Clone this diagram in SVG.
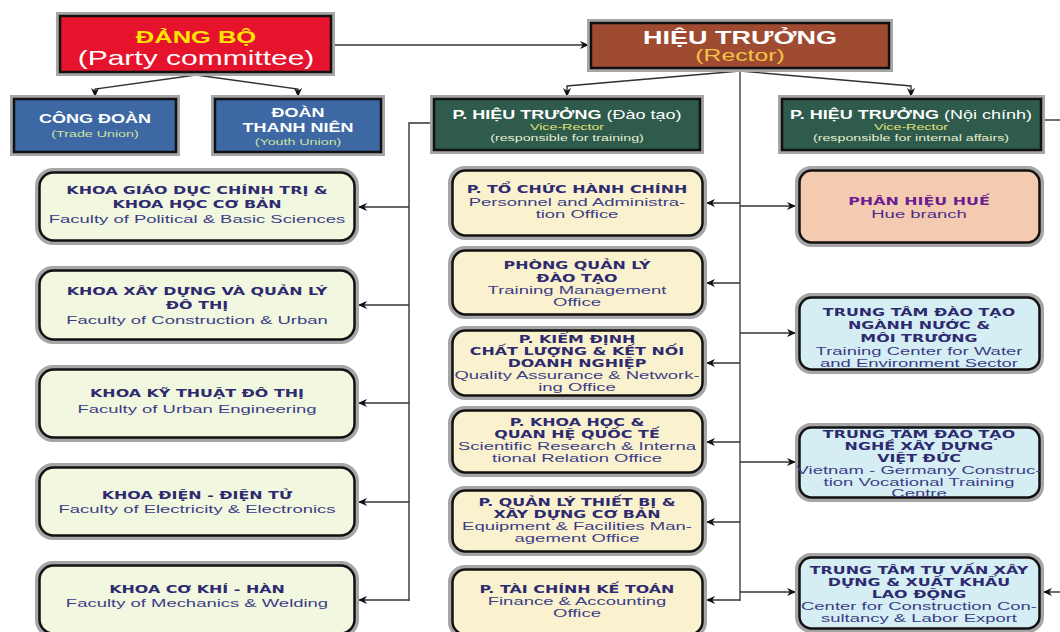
<svg xmlns="http://www.w3.org/2000/svg" width="1060" height="632" viewBox="0 0 1060 632">
<defs>
<marker id="ah" viewBox="0 0 10 10" refX="10" refY="5" markerWidth="9" markerHeight="9" markerUnits="userSpaceOnUse" orient="auto">
<path d="M0,0.5 L10,5 L0,9.5 L3,5 z" fill="#111"/>
</marker>
<style>
.halo{fill:none;stroke:#a6a6a6;stroke-width:4}
.bd{stroke:#111;stroke-width:2.5}
.red{fill:#e5132c}
.brown{fill:#9e4b32}
.blue{fill:#3d68a3}
.green{fill:#2e5b4b}
.lc{fill:#f2f7e0}
.mc{fill:#faf2cf}
.hue{fill:#f4cbb1}
.rc{fill:#d5eef4}
text{font-family:"Liberation Sans",Arial,sans-serif;text-anchor:middle}
.ttl{font-family:"DejaVu Sans","Liberation Sans",sans-serif;font-weight:bold;font-size:10px;fill:#2e2a70;transform:scale(1.06,1)}
.en{font-size:11px;fill:#3b3d86;transform:scale(1.12,1)}
.wb{font-weight:bold;fill:#fff}
.conn{fill:none;stroke:#333;stroke-width:1.4}
.bus{fill:none;stroke:#7a7a7a;stroke-width:2}
</style>
</defs>

<g id="connectors">
<path class="conn" d="M333,45 H589" marker-end="url(#ah)"/>
<path class="conn" d="M196,75 L95,89 V97" marker-end="url(#ah)"/>
<path class="conn" d="M196,75 L298,89 V97" marker-end="url(#ah)"/>
<path class="conn" d="M740,71 L567,86 V97" marker-end="url(#ah)"/>
<path class="conn" d="M740,71 L911,86 V97" marker-end="url(#ah)"/>
<path class="bus" d="M740,71 V601"/>
<path class="conn" d="M432,123 H409 V601"/>
<path class="conn" d="M409,207 H358" marker-end="url(#ah)"/>
<path class="conn" d="M409,305 H358" marker-end="url(#ah)"/>
<path class="conn" d="M409,403 H358" marker-end="url(#ah)"/>
<path class="conn" d="M409,502 H358" marker-end="url(#ah)"/>
<path class="conn" d="M409,600 H358" marker-end="url(#ah)"/>
<path class="conn" d="M740,203 H706" marker-end="url(#ah)"/>
<path class="conn" d="M740,283 H706" marker-end="url(#ah)"/>
<path class="conn" d="M740,363 H706" marker-end="url(#ah)"/>
<path class="conn" d="M740,442 H706" marker-end="url(#ah)"/>
<path class="conn" d="M740,522 H706" marker-end="url(#ah)"/>
<path class="conn" d="M740,600 H706" marker-end="url(#ah)"/>
<path class="conn" d="M740,206 H796" marker-end="url(#ah)"/>
<path class="conn" d="M740,333 H796" marker-end="url(#ah)"/>
<path class="conn" d="M740,462 H796" marker-end="url(#ah)"/>
<path class="conn" d="M740,592 H796" marker-end="url(#ah)"/>
<path class="conn" d="M1043,120 H1060"/>
<path class="conn" d="M1062,592 H1043" marker-end="url(#ah)"/>
</g>

<g id="dang-bo">
<rect class="halo" x="58" y="14" width="275" height="60"/>
<rect class="red bd" x="60" y="16" width="271" height="56"/>
<g transform="translate(196 0) scale(1.5 1)">
<text x="0" y="43" font-size="17" font-weight="bold" fill="#ffe600">ĐẢNG BỘ</text>
<text x="0" y="65" font-size="20" fill="#fff">(Party committee)</text>
</g>
</g>

<g id="cong-doan">
<rect class="halo" x="12" y="97" width="166" height="57"/>
<rect class="blue bd" x="14" y="99" width="162" height="53"/>
<g transform="translate(95 0) scale(1.5 1)">
<text class="wb" x="0" y="123" font-size="12">CÔNG ĐOÀN</text>
<text x="0" y="137" font-size="9.5" fill="#cfe3a0">(Trade Union)</text>
</g>
</g>

<g id="doan-thanh-nien">
<rect class="halo" x="213" y="97" width="170" height="57"/>
<rect class="blue bd" x="215" y="99" width="166" height="53"/>
<g transform="translate(298 0) scale(1.5 1)">
<text class="wb" x="0" y="117" font-size="12">ĐOÀN</text>
<text class="wb" x="0" y="132" font-size="12">THANH NIÊN</text>
<text x="0" y="145" font-size="9.5" fill="#cfe3a0">(Youth Union)</text>
</g>
</g>

<g id="hieu-truong">
<rect class="halo" x="589" y="21" width="302" height="49"/>
<rect class="brown bd" x="591" y="23" width="298" height="45"/>
<g transform="translate(740 0) scale(1.5 1)">
<text class="wb" x="0" y="44" font-size="18">HIỆU TRƯỞNG</text>
<text x="0" y="61" font-size="16.5" fill="#f3c544">(Rector)</text>
</g>
</g>

<g id="pht-dao-tao">
<rect class="halo" x="432" y="97" width="270" height="55"/>
<rect class="green bd" x="434" y="99" width="266" height="51"/>
<g transform="translate(567 0) scale(1.5 1)">
<text x="0" y="119" font-size="12" fill="#fff"><tspan font-weight="bold">P. HIỆU TRƯỞNG</tspan> (Đào tạo)</text>
<text x="0" y="130" font-size="9.5" fill="#e3e37a">Vice-Rector</text>
<text x="0" y="141" font-size="9.5" fill="#e6efcf">(responsible for training)</text>
</g>
</g>

<g id="pht-noi-chinh">
<rect class="halo" x="780" y="97" width="263" height="55"/>
<rect class="green bd" x="782" y="99" width="259" height="51"/>
<g transform="translate(911 0) scale(1.5 1)">
<text x="0" y="119" font-size="12" fill="#fff"><tspan font-weight="bold">P. HIỆU TRƯỞNG</tspan> (Nội chính)</text>
<text x="0" y="130" font-size="9.5" fill="#e3e37a">Vice-Rector</text>
<text x="0" y="141" font-size="9.5" fill="#e6efcf">(responsible for internal affairs)</text>
</g>
</g>

<g id="khoa-gdct">
<rect class="halo" x="37" y="170" width="320" height="73" rx="16"/>
<rect class="lc bd" x="39.5" y="172.5" width="315" height="68" rx="14"/>
<g transform="translate(197 0) scale(1.5 1)">
<text class="ttl" x="0" y="194">KHOA GIÁO DỤC CHÍNH TRỊ &amp;</text>
<text class="ttl" x="0" y="208">KHOA HỌC CƠ BẢN</text>
<text class="en" x="0" y="223">Faculty of Political &amp; Basic Sciences</text>
</g>
</g>

<g id="khoa-xd">
<rect class="halo" x="37" y="268" width="320" height="74" rx="16"/>
<rect class="lc bd" x="39.5" y="270.5" width="315" height="69" rx="14"/>
<g transform="translate(197 0) scale(1.5 1)">
<text class="ttl" x="0" y="295">KHOA XÂY DỰNG VÀ QUẢN LÝ</text>
<text class="ttl" x="0" y="309">ĐÔ THỊ</text>
<text class="en" x="0" y="324">Faculty of Construction &amp; Urban</text>
</g>
</g>

<g id="khoa-ktdt">
<rect class="halo" x="37" y="367" width="320" height="73" rx="16"/>
<rect class="lc bd" x="39.5" y="369.5" width="315" height="68" rx="14"/>
<g transform="translate(197 0) scale(1.5 1)">
<text class="ttl" x="0" y="397">KHOA KỸ THUẬT ĐÔ THỊ</text>
<text class="en" x="0" y="413">Faculty of Urban Engineering</text>
</g>
</g>

<g id="khoa-dien">
<rect class="halo" x="37" y="465" width="320" height="73" rx="16"/>
<rect class="lc bd" x="39.5" y="467.5" width="315" height="68" rx="14"/>
<g transform="translate(197 0) scale(1.5 1)">
<text class="ttl" x="0" y="499">KHOA ĐIỆN - ĐIỆN TỬ</text>
<text class="en" x="0" y="513">Faculty of Electricity &amp; Electronics</text>
</g>
</g>

<g id="khoa-cokhi">
<rect class="halo" x="37" y="563" width="320" height="73" rx="16"/>
<rect class="lc bd" x="39.5" y="565.5" width="315" height="68" rx="14"/>
<g transform="translate(197 0) scale(1.5 1)">
<text class="ttl" x="0" y="593">KHOA CƠ KHÍ - HÀN</text>
<text class="en" x="0" y="607">Faculty of Mechanics &amp; Welding</text>
</g>
</g>

<g id="p-tchc">
<rect class="halo" x="450" y="168" width="255" height="70" rx="15"/>
<rect class="mc bd" x="452.5" y="170.5" width="250" height="65" rx="13"/>
<g transform="translate(577 0) scale(1.5 1)">
<text class="ttl" x="0" y="193">P. TỔ CHỨC HÀNH CHÍNH</text>
<text class="en" x="0" y="206">Personnel and Administra-</text>
<text class="en" x="0" y="218">tion Office</text>
</g>
</g>

<g id="p-qldt">
<rect class="halo" x="450" y="248" width="255" height="69" rx="15"/>
<rect class="mc bd" x="452.5" y="250.5" width="250" height="64" rx="13"/>
<g transform="translate(577 0) scale(1.5 1)">
<text class="ttl" x="0" y="269">PHÒNG QUẢN LÝ</text>
<text class="ttl" x="0" y="282">ĐÀO TẠO</text>
<text class="en" x="0" y="294">Training Management</text>
<text class="en" x="0" y="306">Office</text>
</g>
</g>

<g id="p-kiem-dinh">
<rect class="halo" x="450" y="328" width="255" height="70" rx="15"/>
<rect class="mc bd" x="452.5" y="330.5" width="250" height="65" rx="13"/>
<g transform="translate(577 0) scale(1.5 1)">
<text class="ttl" x="0" y="343">P. KIỂM ĐỊNH</text>
<text class="ttl" x="0" y="355">CHẤT LƯỢNG &amp; KẾT NỐI</text>
<text class="ttl" x="0" y="367">DOANH NGHIỆP</text>
<text class="en" x="0" y="379">Quality Assurance &amp; Network-</text>
<text class="en" x="0" y="391">ing Office</text>
</g>
</g>

<g id="p-khqt">
<rect class="halo" x="450" y="408" width="255" height="67" rx="15"/>
<rect class="mc bd" x="452.5" y="410.5" width="250" height="62" rx="13"/>
<g transform="translate(577 0) scale(1.5 1)">
<text class="ttl" x="0" y="426">P. KHOA HỌC &amp;</text>
<text class="ttl" x="0" y="438">QUAN HỆ QUỐC TẾ</text>
<text class="en" x="0" y="450">Scientific Research &amp; Interna</text>
<text class="en" x="0" y="462">tional Relation Office</text>
</g>
</g>

<g id="p-qltb">
<rect class="halo" x="450" y="488" width="255" height="66" rx="15"/>
<rect class="mc bd" x="452.5" y="490.5" width="250" height="61" rx="13"/>
<g transform="translate(577 0) scale(1.5 1)">
<text class="ttl" x="0" y="506">P. QUẢN LÝ THIẾT BỊ &amp;</text>
<text class="ttl" x="0" y="518">XÂY DỰNG CƠ BẢN</text>
<text class="en" x="0" y="530">Equipment &amp; Facilities Man-</text>
<text class="en" x="0" y="542">agement Office</text>
</g>
</g>

<g id="p-tckt">
<rect class="halo" x="450" y="567" width="255" height="70" rx="15"/>
<rect class="mc bd" x="452.5" y="569.5" width="250" height="65" rx="13"/>
<g transform="translate(577 0) scale(1.5 1)">
<text class="ttl" x="0" y="593">P. TÀI CHÍNH KẾ TOÁN</text>
<text class="en" x="0" y="605">Finance &amp; Accounting</text>
<text class="en" x="0" y="617">Office</text>
</g>
</g>

<g id="phan-hieu-hue">
<rect class="halo" x="797" y="168" width="245" height="77" rx="14"/>
<rect class="hue bd" x="799.5" y="170.5" width="240" height="72" rx="12"/>
<g transform="translate(919 0) scale(1.5 1)">
<text class="ttl" x="0" y="205" style="fill:#6b1f8f">PHÂN HIỆU HUẾ</text>
<text class="en" x="0" y="218" style="fill:#4a2d8a">Hue branch</text>
</g>
</g>

<g id="tt-nganh-nuoc">
<rect class="halo" x="797" y="295" width="245" height="77" rx="14"/>
<rect class="rc bd" x="799.5" y="297.5" width="240" height="72" rx="12"/>
<g transform="translate(919 0) scale(1.5 1)">
<text class="ttl" x="0" y="316">TRUNG TÂM ĐÀO TẠO</text>
<text class="ttl" x="0" y="329">NGÀNH NƯỚC &amp;</text>
<text class="ttl" x="0" y="342">MÔI TRƯỜNG</text>
<text class="en" x="0" y="355">Training Center for Water</text>
<text class="en" x="0" y="367">and Environment Sector</text>
</g>
</g>

<g id="tt-viet-duc">
<rect class="halo" x="797" y="425" width="245" height="75" rx="14"/>
<rect class="rc bd" x="799.5" y="427.5" width="240" height="70" rx="12"/>
<g transform="translate(919 0) scale(1.5 1)">
<text class="ttl" x="0" y="438">TRUNG TÂM ĐÀO TẠO</text>
<text class="ttl" x="0" y="450">NGHỀ XÂY DỰNG</text>
<text class="ttl" x="0" y="462">VIỆT ĐỨC</text>
<text class="en" x="0" y="474">Vietnam - Germany Construc-</text>
<text class="en" x="0" y="486">tion Vocational Training</text>
<text class="en" x="0" y="497">Centre</text>
</g>
</g>

<g id="tt-tu-van">
<rect class="halo" x="797" y="555" width="245" height="76" rx="14"/>
<rect class="rc bd" x="799.5" y="557.5" width="240" height="71" rx="12"/>
<g transform="translate(919 0) scale(1.5 1)">
<text class="ttl" x="0" y="574">TRUNG TÂM TƯ VẤN XÂY</text>
<text class="ttl" x="0" y="586">DỰNG &amp; XUẤT KHẨU</text>
<text class="ttl" x="0" y="598">LAO ĐỘNG</text>
<text class="en" x="0" y="610">Center for Construction Con-</text>
<text class="en" x="0" y="622">sultancy &amp; Labor Export</text>
</g>
</g>
</svg>
